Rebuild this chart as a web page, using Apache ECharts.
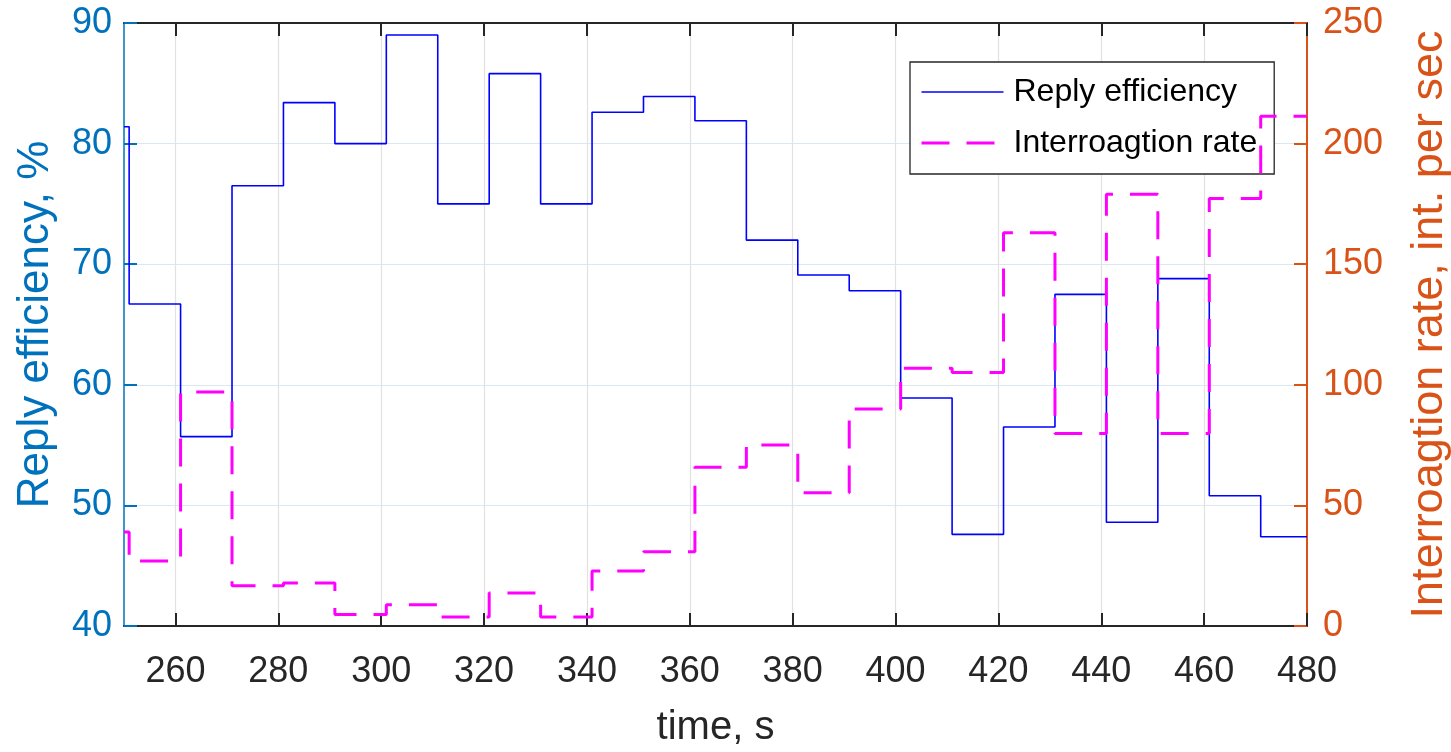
<!DOCTYPE html>
<html>
<head>
<meta charset="utf-8">
<script src="https://cdn.jsdelivr.net/npm/echarts@6/dist/echarts.min.js"></script>
<style>
html,body{margin:0;padding:0;background:#fff;overflow:hidden;}
#chart{width:1451px;height:752px;}
</style>
</head>
<body>
<div id="chart"></div>
<script>
// Step start times (s); each value holds until the next step time
const stepTimes = [250, 251, 261, 271, 281, 291, 301, 311, 321, 331, 341, 351, 361, 371, 381, 391, 401, 411, 421, 431, 441, 451, 461, 471];
const endTime = 480;
// Reply efficiency, % (left axis)
const replyEfficiency = [81.4, 66.7, 55.7, 76.5, 83.4, 80.0, 89.0, 75.0, 85.8, 75.0, 82.6, 83.9, 81.9, 72.0, 69.1, 67.8, 58.9, 47.6, 56.5, 67.5, 48.6, 68.8, 50.8, 47.4];
// Interrogation rate, int. per sec (right axis)
const interrogationRate = [39, 27, 97, 16.7, 17.8, 4.8, 8.8, 3.7, 13.7, 3.7, 22.8, 30.8, 65.8, 75.0, 55.2, 90.0, 106.9, 105.1, 163.0, 79.8, 179.0, 79.8, 177.2, 211.3];
// Axis ticks
const xTicks = [260, 280, 300, 320, 340, 360, 380, 400, 420, 440, 460, 480];
const seriesNames = ['Reply efficiency', 'Interroagtion rate'];
const axisNames = ['time, s', 'Reply efficiency, %', 'Interroagtion rate, int. per sec'];

function stairs(times, vals, tEnd) {
  const d = times.map((t, i) => [t, vals[i]]);
  d.push([tEnd, vals[vals.length - 1]]);
  return d;
}

const FONT = 'Liberation Sans';
const LEFT_C = '#0072bd';
const RIGHT_C = '#d95319';
const AX_C = '#262626';
const BLUE = '#0000ff';
const MAGENTA = '#ff00ff';
const DASH = [28, 17];

const chart = echarts.init(document.getElementById('chart'), null, {renderer: 'canvas'});
chart.setOption({
  animation: false,
  backgroundColor: '#ffffff',
  textStyle: {fontFamily: FONT},
  grid: {left: 124, right: 144, top: 23, bottom: 126, containLabel: false, outerBoundsMode: 'none'},
  legend: {
    orient: 'vertical',
    left: 910, top: 62,
    backgroundColor: '#ffffff',
    borderColor: AX_C, borderWidth: 1.3, borderRadius: 0,
    padding: [12, 17, 13, 10],
    itemWidth: 82, itemHeight: 14, itemGap: 15,
    itemStyle: {opacity: 0},
    textStyle: {fontFamily: FONT, fontSize: 32, color: '#000', lineHeight: 36, padding: [0, 0, 0, 5]},
    data: [
      {name: seriesNames[0], itemStyle: {opacity: 0}, lineStyle: {color: BLUE, width: 1.6, type: 'solid', opacity: 1}},
      {name: seriesNames[1], itemStyle: {opacity: 0}, lineStyle: {color: MAGENTA, width: 3, type: DASH, opacity: 1}}
    ]
  },
  xAxis: [{
    type: 'value', min: 250, max: endTime, position: 'bottom',
    name: axisNames[0], nameLocation: 'middle', nameGap: 82,
    nameTextStyle: {fontFamily: FONT, fontSize: 40, color: AX_C},
    axisLine: {show: true, onZero: false, lineStyle: {color: AX_C, width: 2}},
    axisTick: {show: true, inside: true, length: 13, customValues: xTicks, lineStyle: {color: AX_C, width: 2}},
    axisLabel: {show: true, customValues: xTicks, margin: 28, fontFamily: FONT, fontSize: 36, color: AX_C},
    splitLine: {show: true, lineStyle: {color: '#e2e2e2', width: 1.2}}
  }, {
    type: 'value', min: 250, max: endTime, position: 'top',
    axisLine: {show: true, onZero: false, lineStyle: {color: AX_C, width: 2}},
    axisTick: {show: true, inside: true, length: 13, customValues: xTicks, lineStyle: {color: AX_C, width: 2}},
    axisLabel: {show: false},
    splitLine: {show: false}
  }],
  yAxis: [{
    type: 'value', min: 40, max: 90, interval: 10, position: 'left',
    name: axisNames[1], nameLocation: 'middle', nameGap: 66,
    nameTextStyle: {fontFamily: FONT, fontSize: 44, color: LEFT_C},
    axisLine: {show: true, onZero: false, lineStyle: {color: LEFT_C, width: 1.5}},
    axisTick: {show: true, inside: true, length: 13, lineStyle: {color: LEFT_C, width: 2}},
    axisLabel: {margin: 12, fontFamily: FONT, fontSize: 36, color: LEFT_C},
    splitLine: {show: true, lineStyle: {color: '#dbe7f3', width: 1.2}}
  }, {
    type: 'value', min: 0, max: 250, interval: 50, position: 'right',
    name: axisNames[2], nameLocation: 'middle', nameGap: 100,
    nameTextStyle: {fontFamily: FONT, fontSize: 45, color: RIGHT_C},
    axisLine: {show: true, onZero: false, lineStyle: {color: RIGHT_C, width: 2}},
    axisTick: {show: true, inside: true, length: 13, lineStyle: {color: RIGHT_C, width: 2}},
    axisLabel: {margin: 16, fontFamily: FONT, fontSize: 36, color: RIGHT_C},
    splitLine: {show: false}
  }],
  series: [{
    name: seriesNames[0], type: 'line', step: 'end',
    xAxisIndex: 0, yAxisIndex: 0,
    symbol: 'none', showSymbol: false,
    lineStyle: {color: BLUE, width: 1.6},
    itemStyle: {color: BLUE},
    data: stairs(stepTimes, replyEfficiency, endTime),
    z: 3
  }, {
    name: seriesNames[1], type: 'line', step: 'end',
    xAxisIndex: 0, yAxisIndex: 1,
    symbol: 'none', showSymbol: false,
    lineStyle: {color: MAGENTA, width: 3, type: DASH},
    itemStyle: {color: MAGENTA},
    data: stairs(stepTimes, interrogationRate, endTime),
    z: 4
  }]
});
</script>
</body>
</html>
